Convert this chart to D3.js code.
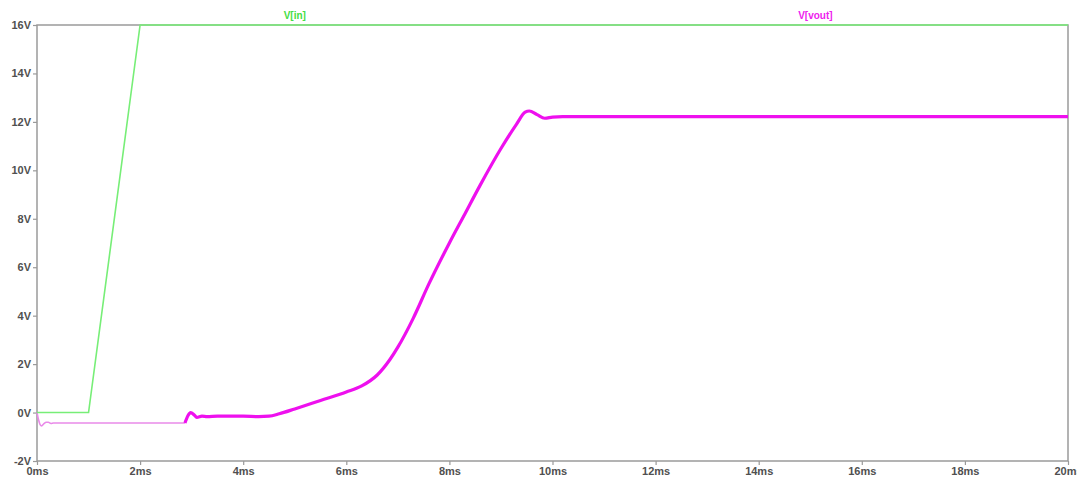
<!DOCTYPE html>
<html>
<head>
<meta charset="utf-8">
<script src="https://cdn.jsdelivr.net/npm/d3@7"></script>
<style>
  html, body { margin: 0; padding: 0; background: #fff; }
  svg { display: block; }
</style>
</head>
<body>
<svg id="chart" width="1077" height="479"></svg>
<script>
// ---- data ----
const xTicks = [0, 2, 4, 6, 8, 10, 12, 14, 16, 18, 20];
const xTickLabels = ["0ms","2ms","4ms","6ms","8ms","10ms","12ms","14ms","16ms","18ms","20ms"];
const yTicks = [-2, 0, 2, 4, 6, 8, 10, 12, 14, 16];
const yTickLabels = ["-2V","0V","2V","4V","6V","8V","10V","12V","14V","16V"];

const vinTime = [0, 1, 2, 20];
const vinValue = [0, 0, 16, 16];

// V(vout) initial (thin) part
const voutTimeA = [0, 0.03, 0.06, 0.09, 0.13, 0.18, 0.22, 0.27, 0.32, 0.4, 1.0, 2.0, 2.87];
const voutValueA = [0, -0.3, -0.5, -0.55, -0.47, -0.4, -0.4, -0.45, -0.43, -0.43, -0.43, -0.43, -0.43];

// V(vout) main (thick) part
const voutTimeB = [2.87, 2.93, 2.98, 3.05, 3.1, 3.2, 3.3, 3.5, 4.0, 4.3, 4.5, 4.7, 5.0, 5.5, 6.0, 6.3, 6.6, 6.85, 7.0, 7.3, 7.6, 8.0, 8.3, 8.6, 9.0, 9.3, 9.47, 9.55, 9.7, 9.85, 10.0, 10.2, 20];
const voutValueB = [-0.43, -0.12, 0.0, -0.1, -0.2, -0.15, -0.17, -0.15, -0.15, -0.17, -0.15, -0.05, 0.15, 0.5, 0.85, 1.1, 1.55, 2.2, 2.7, 3.9, 5.3, 7.0, 8.2, 9.4, 10.9, 11.9, 12.4, 12.45, 12.3, 12.15, 12.2, 12.22, 12.22];

const legendNames = ["V[in]", "V[vout]"];
const legendPos = [5.0, 15.1];

// ---- chart ----
const svg = d3.select("#chart");
const mLeft = 37, mRight = 1068, mTop = 25, mBottom = 461;
const x = d3.scaleLinear().domain([0, 20]).range([mLeft, mRight]);
const y = d3.scaleLinear().domain([-2, 16]).range([mBottom, mTop]);

const axisColor = "#9a9a9a";
const textColor = "#505050";
const font = "'Liberation Sans', Arial, sans-serif";

// frame
svg.append("rect")
  .attr("x", mLeft).attr("y", mTop)
  .attr("width", mRight - mLeft).attr("height", mBottom - mTop)
  .attr("fill", "none").attr("stroke", axisColor).attr("stroke-width", 1.5);

// y axis
const yAxis = d3.axisLeft(y).tickValues(yTicks)
  .tickFormat((d, i) => yTickLabels[i]).tickSize(4).tickPadding(2);
const gy = svg.append("g").attr("transform", `translate(${mLeft},0)`).call(yAxis);
gy.select(".domain").remove();
gy.selectAll("line").attr("stroke", axisColor).attr("stroke-width", 1.2);
gy.selectAll("text").attr("fill", textColor).attr("font-family", font)
  .attr("font-size", 11).attr("font-weight", "bold");

// x axis
const xAxis = d3.axisBottom(x).tickValues(xTicks)
  .tickFormat((d, i) => xTickLabels[i]).tickSize(4).tickPadding(2);
const gx = svg.append("g").attr("transform", `translate(0,${mBottom})`).call(xAxis);
gx.select(".domain").remove();
gx.selectAll("line").attr("stroke", axisColor).attr("stroke-width", 1.2);
gx.selectAll("text").attr("fill", textColor).attr("font-family", font)
  .attr("font-size", 11).attr("font-weight", "bold");

const line = d3.line().x(d => x(d[0])).y(d => y(d[1]));
const smoothLine = d3.line().x(d => x(d[0])).y(d => y(d[1])).curve(d3.curveMonotoneX);

// V(vout) thin
svg.append("path")
  .datum(voutTimeA.map((t, i) => [t, voutValueA[i]]))
  .attr("d", smoothLine).attr("fill", "none")
  .attr("stroke", "#e98ae9").attr("stroke-width", 1.6);

// V(vout) thick
svg.append("path")
  .datum(voutTimeB.map((t, i) => [t, voutValueB[i]]))
  .attr("d", smoothLine).attr("fill", "none")
  .attr("stroke", "#ee10ee").attr("stroke-width", 3.2)
  .attr("stroke-linejoin", "round");

// V(in)
svg.append("path")
  .datum(vinTime.map((t, i) => [t, vinValue[i]]))
  .attr("d", line).attr("fill", "none")
  .attr("stroke", "#77ee77").attr("stroke-width", 1.6);

// legend labels
const legendColors = ["#44dd44", "#ee22ee"];
svg.selectAll("text.legend").data(legendNames).enter().append("text")
  .attr("class", "legend")
  .attr("x", (d, i) => x(legendPos[i]))
  .attr("y", 19)
  .attr("text-anchor", "middle")
  .attr("font-family", font).attr("font-size", 10).attr("font-weight", "bold")
  .attr("fill", (d, i) => legendColors[i])
  .text(d => d);
</script>
</body>
</html>
